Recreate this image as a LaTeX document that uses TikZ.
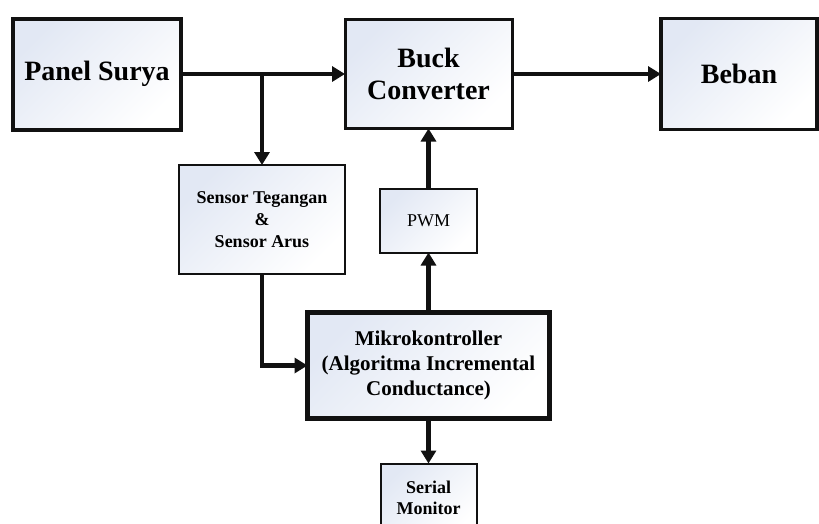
\documentclass[tikz,border=0pt]{standalone}
\usepackage{fontspec}
\setmainfont{Liberation Serif}
\usepackage{xcolor}
\usepackage{tikz}
\usetikzlibrary{arrows.meta,positioning,calc}
\definecolor{boxtint}{HTML}{E2E8F4}
\definecolor{boxline}{HTML}{111111}

\begin{document}
\begin{tikzpicture}[
    x=1pt, y=-1pt,
    blok/.style={rectangle, draw=boxline, top color=boxtint, bottom color=white, shading angle=45, outer sep=0pt, align=center, inner sep=2pt},
    tebal/.style={blok, line width=4pt},
    tipis/.style={blok, line width=2pt},
    sedang/.style={blok, line width=3pt},
    arr/.style={-{Triangle[length=13pt,width=15pt]}, line width=4.5pt, draw=boxline}
]
    \useasboundingbox (0,0) rectangle (819,523);

    % Top row
    \node (panel) [tebal, minimum width=168pt, minimum height=111pt, font=\bfseries\fontsize{28}{32}\selectfont] at (97,74) {Panel Surya};
    \node (buck) [sedang, minimum width=167pt, minimum height=109pt, font=\bfseries\fontsize{28}{32}\selectfont, right=164pt of panel] {Buck\\Converter};
    \node (beban) [sedang, line width=3.5pt, minimum width=156pt, minimum height=111pt, font=\bfseries\fontsize{28}{32}\selectfont, right=149pt of buck] {Beban};

    % Middle and bottom
    \node (sensor) [tipis, minimum width=166pt, minimum height=109pt, font=\bfseries\fontsize{18}{22}\selectfont] at (262,219.5) {Sensor Tegangan\\\&\\Sensor Arus};
    \node (pwm) [tipis, minimum width=97pt, minimum height=64pt, font=\fontsize{18}{22}\selectfont, below=60pt of buck] {PWM};
    \node (mikro) [tebal, line width=4.5pt, minimum width=242pt, minimum height=106pt, font=\bfseries\fontsize{21}{25}\selectfont, below=60pt of pwm] {Mikrokontroller\\(Algoritma Incremental\\Conductance)};
    \node (serial) [tipis, minimum width=96pt, minimum height=72pt, font=\bfseries\fontsize{18}{21}\selectfont, below=45pt of mikro, anchor=north] {\raisebox{8pt}{\begin{tabular}{@{}c@{}}Serial\\Monitor\end{tabular}}};

    \coordinate (cabang) at (panel.east -| sensor.north);

    \draw [arr] (panel) -- (buck);
    \draw [arr] (buck) -- (beban);
    \draw [arr] (cabang) -- (sensor.north);
    \draw [arr] (sensor.south) |- (mikro.west);
    \draw [arr] (mikro) -- (pwm);
    \draw [arr] (pwm) -- (buck);
    \draw [arr] (mikro) -- (serial);
\end{tikzpicture}
\end{document}
